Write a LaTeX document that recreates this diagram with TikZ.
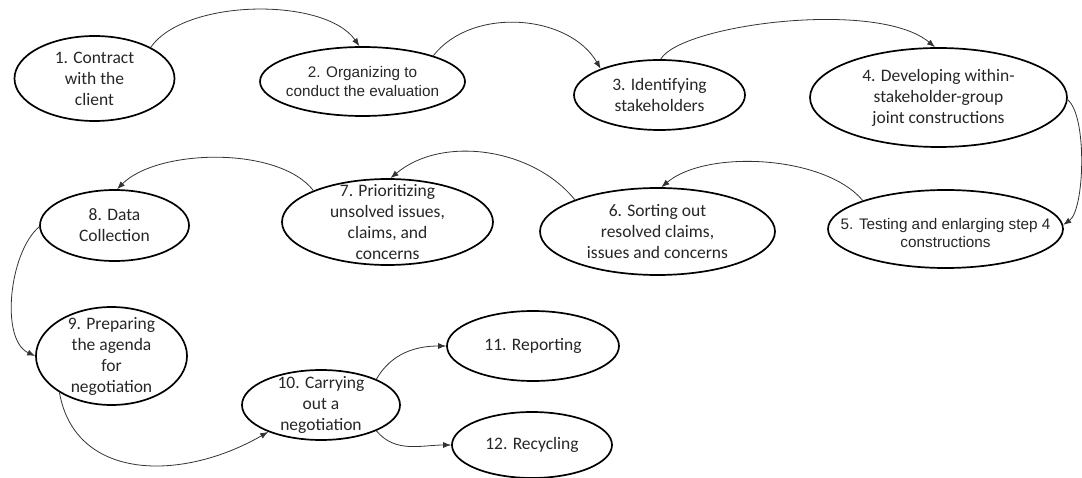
\documentclass[tikz,border=0pt]{standalone}
\usepackage{fontspec}
\setmainfont{Carlito}
\newfontfamily\arialfont{Liberation Sans}
\usetikzlibrary{shapes.geometric, arrows.meta}

\begin{document}
\begin{tikzpicture}[x=1pt, y=1pt, line join=round,
    stage/.style={draw, ellipse, line width=1.7pt, inner sep=0pt},
    stagetext/.style={align=center, text=black!85, font=\fontsize{17.5}{21}\selectfont},
    stagetextsans/.style={align=center, text=black!85, font=\arialfont\fontsize{15.3}{18.3}\selectfont},
    flow/.style={-{Latex[length=8pt,width=6pt]}, line width=0.8pt, draw=black!80}]

    % Fix the page size
    \useasboundingbox (0,0) rectangle (1082,-478);

    % ==========================================
    % STAGES (ellipses)
    % ==========================================

    % First row
    \node[stage, minimum width=160pt, minimum height=85pt] (e1) at (94.5,-78.5) {};
    \node[stage, minimum width=205pt, minimum height=69pt] (e2) at (362.5,-81.5) {};
    \node[stage, minimum width=171pt, minimum height=70pt] (e3) at (659.5,-95) {};
    \node[stage, minimum width=257pt, minimum height=99pt] (e4) at (938.5,-97.5) {};

    % Second row, running back to the left
    \node[stage, minimum width=235pt, minimum height=78pt] (e5) at (945.5,-229) {};
    \node[stage, minimum width=235pt, minimum height=87pt] (e6) at (657.5,-231.5) {};
    \node[stage, minimum width=211pt, minimum height=86pt] (e7) at (387.5,-222) {};
    \node[stage, minimum width=149pt, minimum height=71pt] (e8) at (114.5,-225.5) {};

    % Last part
    \node[stage, minimum width=151pt, minimum height=98pt] (e9) at (111.5,-356) {};
    \node[stage, minimum width=158pt, minimum height=70pt] (e10) at (321,-405) {};
    \node[stage, minimum width=172pt, minimum height=70pt] (e11) at (533,-346) {};
    \node[stage, minimum width=160pt, minimum height=66pt] (e12) at (532,-445) {};

    % Texts inside the stages
    \node[stagetext] (t1) at (e1) {1. Contract\\with the\\client};
    \node[stagetextsans] (t2) at (e2) {2. Organizing to\\conduct the evaluation};
    \node[stagetext] (t3) at (e3) {3. Identifying\\stakeholders};
    \node[stagetext] (t4) at (e4) {4. Developing within-\\stakeholder-group\\joint constructions};
    \node[stagetextsans] (t5) at ([yshift=-4pt]e5) {5. Testing and enlarging step 4\\constructions};
    \node[stagetext] (t6) at (e6) {6. Sorting out\\resolved claims,\\issues and concerns};
    \node[stagetext] (t7) at (e7) {7. Prioritizing\\unsolved issues,\\claims, and\\concerns};
    \node[stagetext] (t8) at (e8) {8. Data\\Collection};
    \node[stagetext] (t9) at (e9) {9. Preparing\\the agenda\\for\\negotiation};
    \node[stagetext] (t10) at (e10) {10. Carrying\\out a\\negotiation};
    \node[stagetext] (t11) at (e11) {11. Reporting};
    \node[stagetext] (t12) at (e12) {12. Recycling};

    % ==========================================
    % CONNECTORS
    % ==========================================

    \draw[flow] (e1.29) to[out=55, in=125, distance=60pt] (e2.95);
    \draw[flow] (e2.20) to[out=52, in=120, distance=63pt] (e3.156);
    \draw[flow] (e3.88) to[out=60, in=140, out distance=40pt, in distance=75pt] (e4.94);
    \draw[flow] (e4.359) to[out=-40, in=35, distance=26pt] (e5.2);
    \draw[flow] (e5.161) to[out=130, in=40, distance=59pt] (e6.85);
    \draw[flow] (e6.159) to[out=129, in=40, distance=67pt] (e7.86);
    \draw[flow] (e7.157) to[out=128, in=45, distance=57pt] (e8.86);
    \draw[flow] (e8.181) to[out=220, in=155, distance=39pt] (e9.180);
    \draw[flow] (e9.215) to[out=-80, in=210, out distance=90pt, in distance=100pt] (e10.207);
    \draw[flow] (e10.25) to[out=60, in=180] (e11.180);
    \draw[flow] (e10.335) to[out=-50, in=180] (e12.180);

\end{tikzpicture}
\end{document}
